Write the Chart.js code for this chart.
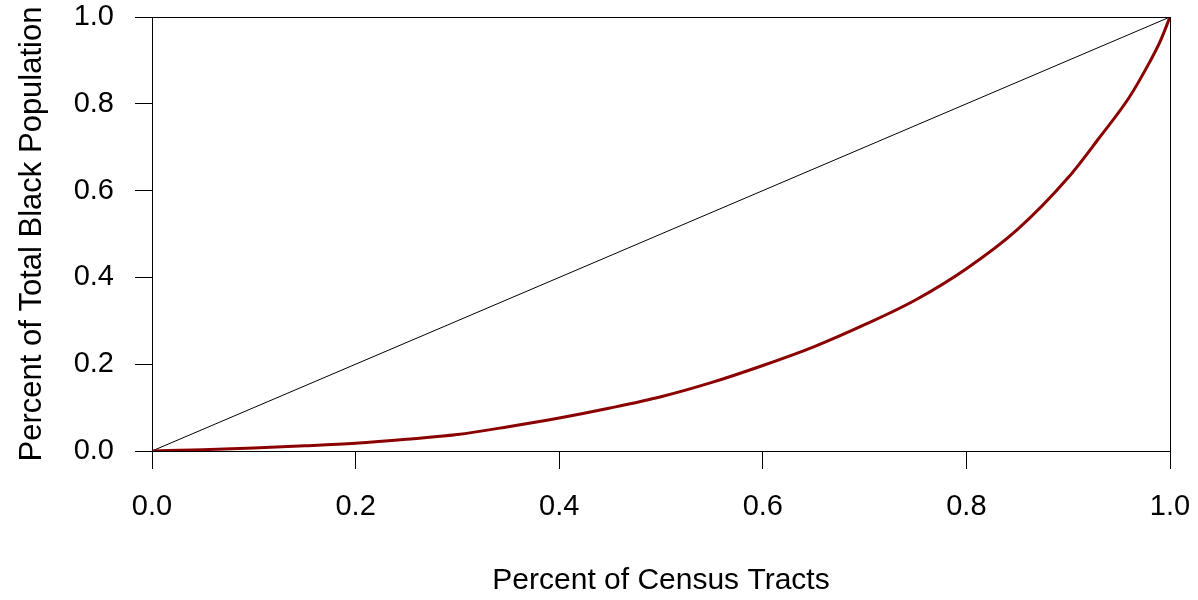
<!DOCTYPE html>
<html>
<head>
<meta charset="utf-8">
<script src="https://cdn.jsdelivr.net/npm/chart.js@4"></script>
<style>
  html, body { margin: 0; padding: 0; background: #fff; }
  canvas { display: block; }
</style>
</head>
<body>
<canvas id="lorenzChart" width="1198" height="600"></canvas>
<script>
// cumulative share of census tracts vs cumulative share of black population
const tractShare = [0, 0.05, 0.1, 0.15, 0.2, 0.25, 0.3, 0.35, 0.4, 0.45, 0.5, 0.55, 0.6, 0.65, 0.7, 0.75, 0.8, 0.85, 0.9, 0.93, 0.96, 0.98, 0.99, 1];
const blackShare = [0, 0.003, 0.007, 0.012, 0.018, 0.027, 0.038, 0.056, 0.076, 0.099, 0.125, 0.158, 0.197, 0.24, 0.291, 0.348, 0.42, 0.51, 0.63, 0.72, 0.815, 0.896, 0.942, 1];
const equalityX = [0, 1];
const equalityY = [0, 1];
const xTitle = 'Percent of Census Tracts';
const yTitle = 'Percent of Total Black Population';

const toPoints = (xs, ys) => xs.map((x, i) => ({ x, y: ys[i] }));

// R-style box round the plot region
const boxPlugin = {
	id: 'box',
	afterDraw(chart){
		const { ctx, chartArea: a } = chart;
		ctx.save();
		ctx.strokeStyle = '#000';
		ctx.lineWidth = 1;
		ctx.strokeRect(Math.round(a.left) + 0.5, Math.round(a.top) + 0.5, Math.round(a.right - a.left), Math.round(a.bottom - a.top));
		ctx.restore();
	}
};

const font = { family: '"Liberation Sans", Arial, sans-serif', size: 29 };

new Chart(document.getElementById('lorenzChart'), {
	type: 'scatter',
	data: {
		datasets: [
			{ data: toPoints(equalityX, equalityY), showLine: true, borderColor: '#000', borderWidth: 1, pointRadius: 0, order: 2 },
			{ data: toPoints(tractShare, blackShare), showLine: true, borderColor: '#8b0000', borderWidth: 3, pointRadius: 0, cubicInterpolationMode: 'monotone', order: 1 }
		]
	},
	options: {
		responsive: false,
		animation: false,
		layout: { padding: { top: 17, right: 28, left: 0, bottom: 0 } },
		plugins: { legend: { display: false }, tooltip: { enabled: false } },
		scales: {
			x: {
				type: 'linear', min: 0, max: 1,
				afterFit(s){ s.height = 149; s.paddingLeft = 0; s.paddingRight = 0; },
				border: { display: true, color: '#000', width: 1 },
				grid: { drawOnChartArea: false, drawTicks: true, tickLength: 18, color: '#000', lineWidth: 1 },
				ticks: { stepSize: 0.2, padding: 21, color: '#000', font, maxRotation: 0, callback: v => v.toFixed(1) },
				title: { display: true, text: xTitle, color: '#000', font: { ...font, size: 30 }, padding: { top: 0, bottom: 1 } }
			},
			y: {
				type: 'linear', min: 0, max: 1,
				afterFit(s){ s.width = 152; s.paddingTop = 0; s.paddingBottom = 0; },
				border: { display: true, color: '#000', width: 1 },
				grid: { drawOnChartArea: false, drawTicks: true, tickLength: 17, color: '#000', lineWidth: 1 },
				ticks: { stepSize: 0.2, padding: 21, color: '#000', font, callback: v => v.toFixed(1) },
				title: { display: true, text: yTitle, color: '#000', font: { ...font, size: 31 }, padding: { top: 14, bottom: 0 } }
			}
		}
	},
	plugins: [boxPlugin]
});
</script>
</body>
</html>
